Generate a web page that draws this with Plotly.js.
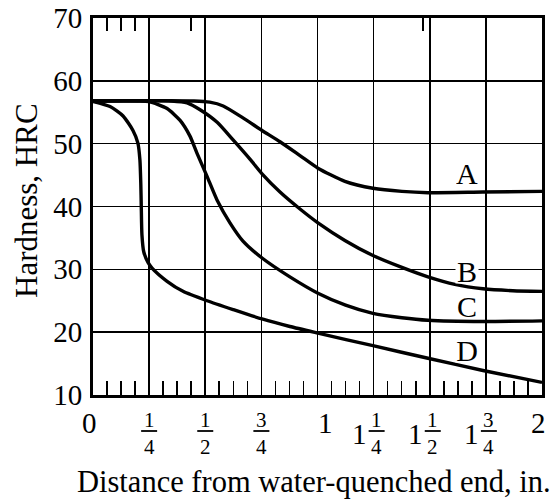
<!DOCTYPE html>
<html>
<head>
<meta charset="utf-8">
<script src="https://cdn.plot.ly/plotly-3.0.1.min.js"></script>
<style>html,body{margin:0;padding:0;background:#fff;}#chart{width:560px;height:499px;}</style>
</head>
<body>
<div id="chart"></div>
<script>
// Distance from water-quenched end (in.) and hardness (HRC) for each steel
const xA = [0, 0.45, 0.52, 0.58, 0.668, 0.753, 0.833, 0.922, 1.002, 1.122, 1.247, 1.376, 1.492, 1.737, 2.0];
const yA = [56.8, 56.8, 56.6, 56.0, 54.1, 52.1, 50.3, 48.1, 46.1, 44.0, 42.9, 42.4, 42.2, 42.3, 42.4];

const xB = [0, 0.35, 0.419, 0.477, 0.553, 0.624, 0.7, 0.753, 0.833, 0.922, 1.002, 1.122, 1.247, 1.376, 1.492, 1.612, 1.737, 1.87, 2.0];
const yB = [56.8, 56.8, 56.5, 55.4, 53.4, 50.6, 47.5, 45.2, 42.3, 39.6, 37.4, 34.6, 32.2, 30.3, 28.8, 27.6, 26.9, 26.6, 26.5];

const xC = [0, 0.2, 0.25, 0.33, 0.388, 0.432, 0.463, 0.508, 0.553, 0.61, 0.668, 0.753, 0.877, 1.002, 1.125, 1.247, 1.376, 1.492, 1.737, 2.0];
const yC = [56.8, 56.8, 56.7, 55.6, 53.7, 51.2, 48.5, 44.8, 41.0, 37.4, 34.5, 31.8, 28.8, 26.2, 24.3, 23.0, 22.3, 21.9, 21.7, 21.8];

const xD = [0, 0.076, 0.134, 0.178, 0.2, 0.209, 0.213, 0.215, 0.218, 0.226, 0.245, 0.263, 0.33, 0.401, 0.508, 0.624, 0.753, 0.877, 1.002, 1.247, 1.492, 1.737, 2.0];
const yD = [56.7, 55.9, 54.4, 52.1, 50.1, 47.4, 43.5, 40.0, 35.5, 32.8, 31.1, 30.2, 28.1, 26.5, 25.0, 23.6, 22.1, 20.9, 19.85, 17.85, 15.85, 13.9, 12.0];

// Curve labels
const curveNames = ['A', 'B', 'C', 'D'];
const labelX = [1.664, 1.664, 1.664, 1.664];
const labelY = [45.3, 29.7, 24.1, 17.2];

// Axis tick labels
const tickVals  = [0, 0.25, 0.5, 0.75, 1, 1.25, 1.5, 1.75, 2];
const tickWhole = ['0', '', '', '', '1', '1', '1', '1', '2'];
const tickNum   = ['', '1', '1', '3', '', '1', '1', '3', ''];
const tickDen   = ['', '4', '2', '4', '', '4', '2', '4', ''];
const topTickVals = [0.0625, 0.125, 0.1875, 0.4375, 1.47];
const xTitle = 'Distance from water-quenched end, in.';
const yTitle = 'Hardness, HRC';

const FONT = 'Liberation Serif, Times New Roman, serif';
const series = [[xA, yA], [xB, yB], [xC, yC], [xD, yD]];

const traces = series.map((s, i) => ({
  x: s[0], y: s[1], type: 'scatter', mode: 'lines', name: curveNames[i],
  line: {color: 'black', width: 3.4, shape: 'spline', smoothing: 0.6},
  hoverinfo: 'x+y+name'
}));
// carrier for the top axis ticks
traces.push({x: [tickVals[0], tickVals[tickVals.length - 1]], y: [null, null], xaxis: 'x2', yaxis: 'y',
  type: 'scatter', mode: 'lines', hoverinfo: 'skip', showlegend: false});

const annotations = [];
const shapes = [];
curveNames.forEach((n, i) => {
  annotations.push({x: labelX[i], y: labelY[i], xref: 'x', yref: 'y', text: n, showarrow: false,
    font: {family: FONT, size: 30, color: 'black'}, bgcolor: 'white', borderpad: 0, width: 22, height: 24});
});
tickVals.forEach((v, i) => {
  const mixed = tickWhole[i] !== '' && tickNum[i] !== '';
  if (tickWhole[i] !== '') {
    const xs = mixed ? -14 : (v === 0 ? -4 : (v === 2 ? -4 : 8));
    annotations.push({x: v, y: 0, xref: 'x', yref: 'paper', text: tickWhole[i], showarrow: false,
      xanchor: 'center', yanchor: 'middle', xshift: xs, yshift: mixed ? -39 : -28,
      font: {family: FONT, size: 29, color: 'black'}});
  }
  if (tickNum[i] !== '') {
    const fx = mixed ? 3 : 0;
    annotations.push({x: v, y: 0, xref: 'x', yref: 'paper', text: tickNum[i] + '<br>' + tickDen[i], showarrow: false,
      xanchor: 'center', yanchor: 'middle', xshift: fx, yshift: -38,
      font: {family: FONT, size: 21, color: 'black'}});
    shapes.push({type: 'line', xref: 'x', yref: 'paper', xsizemode: 'pixel', ysizemode: 'pixel',
      xanchor: v, yanchor: 0, x0: fx - 8, x1: fx + 8, y0: -36, y1: -36,
      line: {color: 'black', width: 1.8}});
  }
});
// axis titles
annotations.push({x: 0.5, y: 0, xref: 'paper', yref: 'paper', text: xTitle, showarrow: false,
  xanchor: 'center', yanchor: 'middle', xshift: -3.5, yshift: -87,
  font: {family: FONT, size: 30.5, color: 'black'}});
annotations.push({x: 0, y: 0.5, xref: 'paper', yref: 'paper', text: yTitle, showarrow: false, textangle: -90,
  xanchor: 'center', yanchor: 'middle', xshift: -67, yshift: 5.5,
  font: {family: FONT, size: 31, color: 'black'}});

const layout = {
  width: 560, height: 499,
  margin: {l: 93, r: 18, t: 18, b: 104},
  paper_bgcolor: 'white', plot_bgcolor: 'white',
  showlegend: false,
  font: {family: FONT, color: 'black', size: 29},
  xaxis: {
    range: [0, 2], tick0: 0, dtick: 0.25, showticklabels: false,
    showgrid: true, gridcolor: 'black', gridwidth: 1.6,
    ticks: 'inside', ticklen: 14, tickwidth: 1.6, tickcolor: 'black',
    minor: {tick0: 0, dtick: 0.0625, ticks: 'inside', ticklen: 14, tickwidth: 1.6, tickcolor: 'black', showgrid: false},
    showline: true, linewidth: 3, linecolor: 'black', mirror: true, zeroline: false
  },
  xaxis2: {
    overlaying: 'x', anchor: 'y', side: 'top', range: [0, 2], tickmode: 'array', tickvals: topTickVals,
    ticks: 'inside', ticklen: 13, tickwidth: 1.6, tickcolor: 'black',
    showticklabels: false, showgrid: false, zeroline: false, showline: false
  },
  yaxis: {
    range: [10, 70], tick0: 10, dtick: 10,
    showgrid: true, gridcolor: 'black', gridwidth: 1.6,
    showline: true, linewidth: 3, linecolor: 'black', mirror: true, zeroline: false,
    ticks: 'outside', ticklen: 0, ticklabelstandoff: 2,
    tickfont: {family: FONT, size: 29, color: 'black'}
  },
  annotations: annotations,
  shapes: shapes
};

Plotly.newPlot('chart', traces, layout, {displayModeBar: false, staticPlot: true});
</script>
</body>
</html>
